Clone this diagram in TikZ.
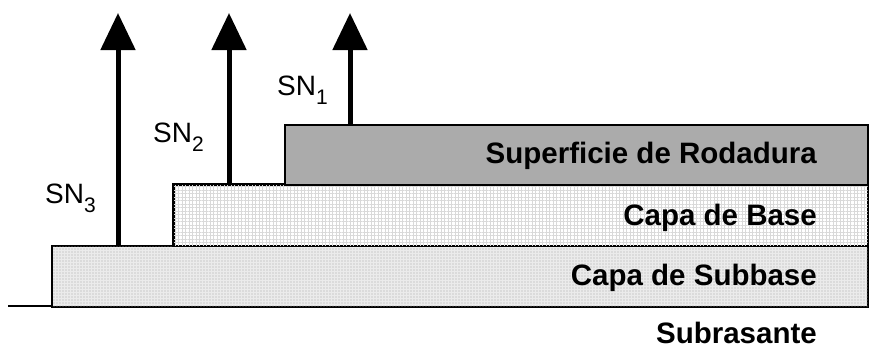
\documentclass[tikz,border=0pt]{standalone}
\usepackage{fontspec}
\setmainfont{Liberation Sans}
\usetikzlibrary{arrows.meta,patterns.meta}
\newcommand{\snsub}[1]{\raisebox{-9pt}{\fontsize{21}{22}\selectfont #1}}
\begin{document}
\begin{tikzpicture}[x=1pt,y=-1pt,
  layer/.style={draw=black,line width=1.6pt,inner sep=0pt,anchor=north west},
  layername/.style={anchor=base east,inner sep=0pt,font=\fontsize{29.5}{30}\selectfont\bfseries},
  snlabel/.style={anchor=base west,inner sep=0pt,font=\fontsize{28}{30}\selectfont},
  loadarrow/.style={line width=5pt,-{Triangle[width=34pt,length=37pt]}}]
  \useasboundingbox (0,0) rectangle (872,351);
  % subgrade line
  \coordinate (g0) at (8,306);
  \coordinate (g1) at (867,306);
  \draw[line width=1.6pt] (g0) -- (g1);
  % subbase: fine dotted fill
  \node[layer,fill=gray!16,minimum width=816pt,minimum height=61pt] (sub) at (51,245) {};
  \fill[pattern={Dots[distance=3pt,radius=0.55pt]},pattern color=gray!70]
    ([xshift=1pt,yshift=-1pt]sub.north west) rectangle ([xshift=-1pt,yshift=1pt]sub.south east);
  % base: fine grid fill
  \node[layer,fill=white,minimum width=694pt,minimum height=61pt] (base) at (173,184) {};
  \fill[pattern={Lines[angle=0,distance=3.5pt,line width=0.4pt]},pattern color=gray!30]
    ([xshift=1pt,yshift=-1pt]base.north west) rectangle ([xshift=-1pt,yshift=1pt]base.south east);
  \fill[pattern={Lines[angle=90,distance=3.5pt,line width=0.4pt]},pattern color=gray!30]
    ([xshift=1pt,yshift=-1pt]base.north west) rectangle ([xshift=-1pt,yshift=1pt]base.south east);
  \draw[line width=1.6pt] (base.north west) rectangle (base.south east);
  % wearing surface
  \node[layer,fill=black!33,minimum width=583pt,minimum height=60pt] (surf) at (284,124) {};
  % layer names
  \node[layername] (tsurf) at (817,163) {Superficie de Rodadura};
  \node[layername] (tbase) at (817,225) {Capa de Base};
  \node[layername] (tsub) at (817,285) {Capa de Subbase};
  \node[layername] (tgr) at (817,343) {Subrasante};
  % structural numbers
  \coordinate (a1) at (350,13);
  \coordinate (a2) at (229,13);
  \coordinate (a3) at (118,13);
  \draw[loadarrow] (surf.north -| a1) -- (a1);
  \draw[loadarrow] (base.north -| a2) -- (a2);
  \draw[loadarrow] (sub.north -| a3) -- (a3);
  \node[snlabel] (sn1) at (277,95) {SN\snsub{1}};
  \node[snlabel] (sn2) at (153,142) {SN\snsub{2}};
  \node[snlabel] (sn3) at (45,203) {SN\snsub{3}};
\end{tikzpicture}
\end{document}
